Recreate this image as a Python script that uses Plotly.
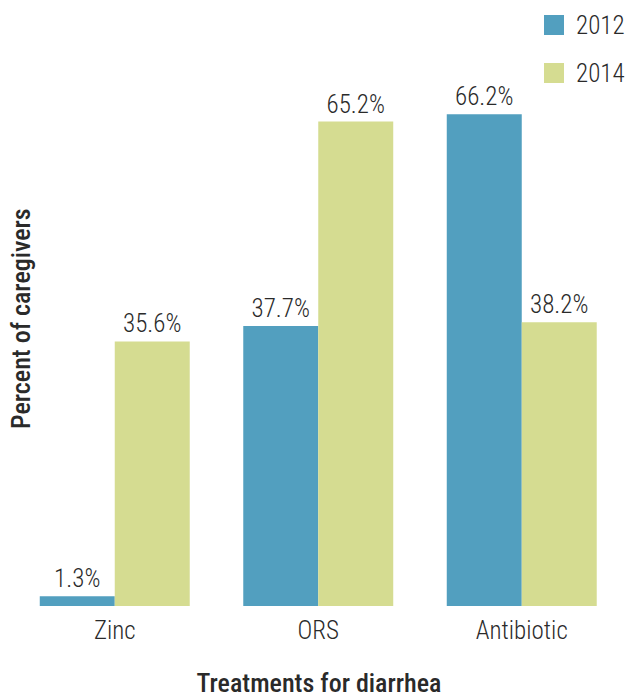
import plotly.graph_objects as go

categories = ["Zinc", "ORS", "Antibiotic"]
series_names = ["2012", "2014"]
values_2012 = [1.3, 37.7, 66.2]
values_2014 = [35.6, 65.2, 38.2]
colors = ["#529FBF", "#D5DC91"]

FONT = "Roboto Condensed, Liberation Sans Narrow, Arial Narrow, sans-serif"
TXT = "#2a2a2a"

W, H = 625, 698
L, R, T, B = 13, 0, 10, 92
PW, PH = W - L - R, H - T - B


def px(x):
    return (x - L) / PW


def py(y):
    return (H - B - y) / PH


fig = go.Figure()
for name, vals, col in zip(series_names, [values_2012, values_2014], colors):
    fig.add_trace(go.Bar(
        x=categories, y=vals, name=name, marker_color=col,
        marker_line_width=0,
        text=[f"{v:.1f}%" for v in vals], textposition="outside",
        textfont=dict(size=25, color=TXT, family=FONT, weight=300),
        cliponaxis=False, showlegend=False, hoverinfo="skip",
    ))

# legend drawn as squares + labels
for i, (name, col) in enumerate(zip(series_names, colors)):
    ytop = 15 + i * 48
    fig.add_shape(type="rect", xref="paper", yref="paper",
                  x0=px(544), x1=px(564), y0=py(ytop), y1=py(ytop + 20),
                  fillcolor=col, line_width=0)
    fig.add_annotation(xref="paper", yref="paper",
                       x=px(574), y=py(ytop + 10),
                       text=name, showarrow=False, xanchor="left", yanchor="middle",
                       font=dict(size=25, color=TXT, family=FONT, weight=300))

fig.add_annotation(xref="paper", yref="paper", x=px(21), y=py(319),
                   text="Percent of caregivers", textangle=-90, showarrow=False,
                   xanchor="center", yanchor="middle",
                   font=dict(size=26, color=TXT, family=FONT, weight=500))

fig.update_layout(
    width=W, height=H,
    margin=dict(l=L, r=R, t=T, b=B),
    barmode="group", bargap=0.263, bargroupgap=0,
    plot_bgcolor="white", paper_bgcolor="white",
    font=dict(family=FONT, color=TXT),
    xaxis=dict(range=[-0.5, -0.5 + PW / 203.5], showline=False, ticks="", showgrid=False,
               ticklabelstandoff=7,
               tickfont=dict(size=25, color=TXT, family=FONT, weight=300),
               title=dict(text="Treatments for diarrhea", standoff=32,
                          font=dict(size=26, color=TXT, family=FONT, weight=500))),
    yaxis=dict(range=[0, PH / 7.43], visible=False, showgrid=False),
)

fig.write_html("out.html", config={"displayModeBar": False},
               post_script="document.body.style.margin='0';")
